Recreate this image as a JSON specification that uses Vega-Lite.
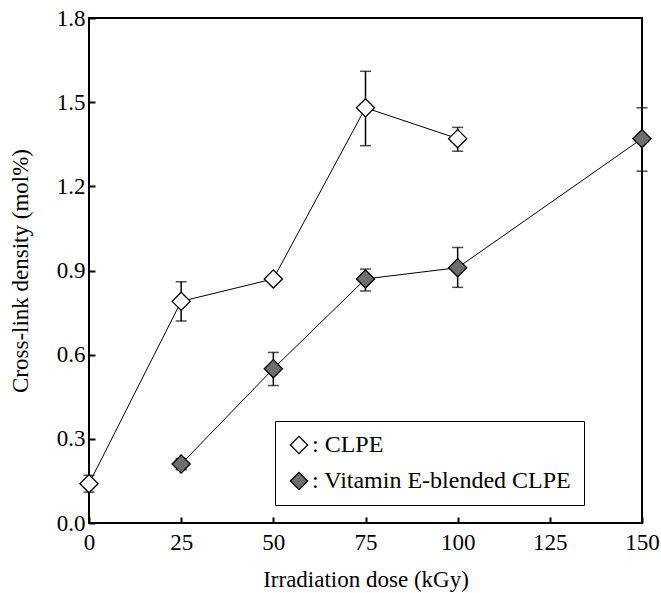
{
  "$schema": "https://vega.github.io/schema/vega-lite/v6.json",
  "autosize": {"type": "none"},
  "width": 553,
  "height": 505,
  "padding": {"left": 89, "top": 18, "right": 19, "bottom": 70},
  "background": "white",
  "config": {
    "font": "Times New Roman",
    "view": {"stroke": "black", "strokeWidth": 2},
    "legend": {"labelFont": "Times New Roman"},
    "axis": {
      "domain": false,
      "grid": false,
      "tickColor": "black",
      "tickWidth": 2,
      "labelColor": "black",
      "titleColor": "black",
      "labelFont": "Times New Roman",
      "titleFont": "Times New Roman",
      "labelFontSize": 23,
      "titleFontSize": 23,
      "titleFontWeight": "normal"
    }
  },
  "data": {
    "values": [
      {"dose": 0, "density": 0.14, "lo": 0.11, "hi": 0.17, "series": "CLPE"},
      {"dose": 25, "density": 0.79, "lo": 0.72, "hi": 0.86, "series": "CLPE"},
      {"dose": 50, "density": 0.87, "lo": 0.86, "hi": 0.88, "series": "CLPE"},
      {"dose": 75, "density": 1.48, "lo": 1.345, "hi": 1.61, "series": "CLPE"},
      {"dose": 100, "density": 1.37, "lo": 1.325, "hi": 1.41, "series": "CLPE"},
      {"dose": 25, "density": 0.21, "lo": 0.19, "hi": 0.23, "series": "Vitamin E-blended CLPE"},
      {"dose": 50, "density": 0.55, "lo": 0.49, "hi": 0.608, "series": "Vitamin E-blended CLPE"},
      {"dose": 75, "density": 0.87, "lo": 0.827, "hi": 0.905, "series": "Vitamin E-blended CLPE"},
      {"dose": 100, "density": 0.91, "lo": 0.84, "hi": 0.982, "series": "Vitamin E-blended CLPE"},
      {"dose": 150, "density": 1.37, "lo": 1.254, "hi": 1.48, "series": "Vitamin E-blended CLPE"}
    ]
  },
  "encoding": {
    "x": {
      "field": "dose",
      "type": "quantitative",
      "scale": {"domain": [0, 150], "nice": false, "zero": false},
      "axis": {
        "title": "Irradiation dose (kGy)",
        "values": [0, 25, 50, 75, 100, 125, 150],
        "tickSize": -6,
        "labelPadding": 14,
        "titlePadding": 14,
        "labelFlush": false
      }
    }
  },
  "layer": [
    {
      "mark": {"type": "line", "color": "black", "strokeWidth": 1},
      "encoding": {
        "y": {
          "field": "density",
          "type": "quantitative",
          "scale": {"domain": [0, 1.8], "nice": false},
          "axis": {
            "title": "Cross-link density (mol%)",
            "values": [0, 0.3, 0.6, 0.9, 1.2, 1.5, 1.8],
            "format": ".1f",
            "tickSize": -6,
            "labelPadding": 10,
            "titlePadding": 24,
            "labelFlush": false
          }
        },
        "detail": {"field": "series"}
      }
    },
    {
      "mark": {"type": "rule", "color": "black", "strokeWidth": 1.5},
      "encoding": {
        "y": {"field": "lo", "type": "quantitative"},
        "y2": {"field": "hi"}
      }
    },
    {
      "mark": {"type": "tick", "color": "black", "orient": "horizontal", "size": 11, "thickness": 1.5},
      "encoding": {"y": {"field": "lo", "type": "quantitative"}}
    },
    {
      "mark": {"type": "tick", "color": "black", "orient": "horizontal", "size": 11, "thickness": 1.5},
      "encoding": {"y": {"field": "hi", "type": "quantitative"}}
    },
    {
      "mark": {"type": "point", "filled": true, "size": 330, "stroke": "black", "strokeWidth": 1.3, "opacity": 1},
      "encoding": {
        "y": {"field": "density", "type": "quantitative"},
        "shape": {
          "field": "series",
          "type": "nominal",
          "scale": {"range": ["diamond", "diamond"]},
          "legend": null
        },
        "fill": {
          "field": "series",
          "type": "nominal",
          "scale": {"domain": ["CLPE", "Vitamin E-blended CLPE"], "range": ["white", "#6e6e6e"]},
          "legend": {
            "title": null,
            "orient": "none",
            "legendX": 186,
            "legendY": 403,
            "symbolType": "diamond",
            "symbolSize": 300,
            "symbolStrokeColor": "black",
            "symbolStrokeWidth": 1.3,
            "labelExpr": "': ' + datum.label",
            "labelFontSize": 24,
            "labelColor": "black",
            "labelOffset": 1,
            "labelLimit": 400,
            "rowPadding": 12,
            "padding": 12,
            "strokeColor": "black",
            "fillColor": "white"
          }
        }
      }
    }
  ]
}
